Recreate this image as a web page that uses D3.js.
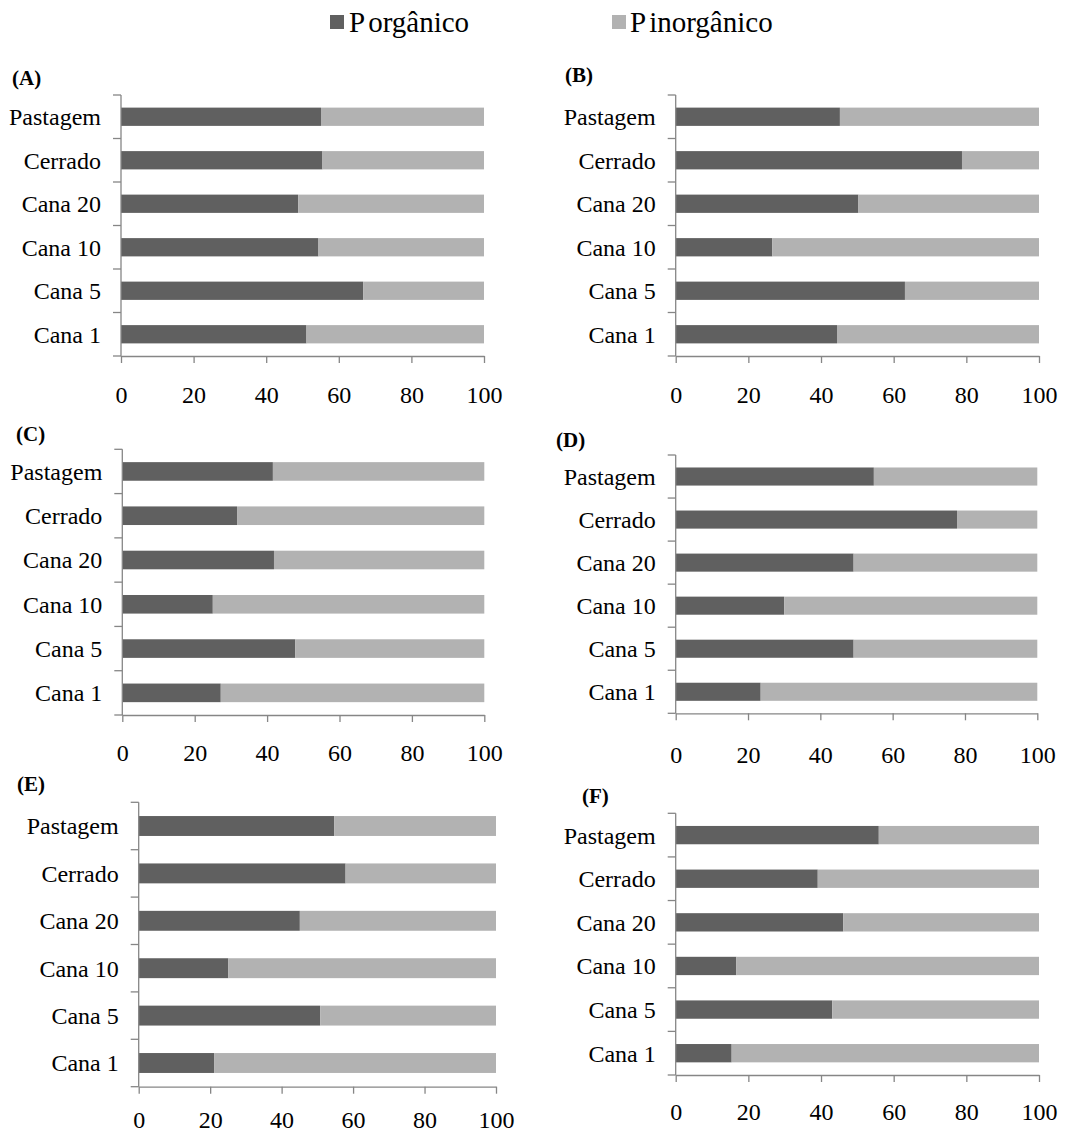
<!DOCTYPE html>
<html>
<head>
<meta charset="utf-8">
<script src="https://cdn.jsdelivr.net/npm/d3@7"></script>
<style>
  html, body { margin: 0; padding: 0; background: #fff; }
  svg { display: block; }
  svg text { font-family: "Liberation Serif", "Times New Roman", serif; }
</style>
</head>
<body>
<svg id="chart" width="1080" height="1135"></svg>
<script>
// ---- data ----
const categories = ["Pastagem", "Cerrado", "Cana 20", "Cana 10", "Cana 5", "Cana 1"];
const seriesNames = ["Porgânico", "Pinorgânico"];
const xTicks = [0, 20, 40, 60, 80, 100];
const panelLabels = ["(A)", "(B)", "(C)", "(D)", "(E)", "(F)"];

const pOrgA = [55.1, 55.5, 48.8, 54.4, 66.7, 51.1];
const pInorgA = [44.9, 44.5, 51.2, 45.6, 33.3, 48.9];
const pOrgB = [45.2, 78.8, 50.3, 26.6, 63.1, 44.4];
const pInorgB = [54.8, 21.2, 49.7, 73.4, 36.9, 55.6];
const pOrgC = [41.6, 31.7, 41.9, 25.0, 47.8, 27.2];
const pInorgC = [58.4, 68.3, 58.1, 75.0, 52.2, 72.8];
const pOrgD = [54.8, 77.8, 49.2, 30.0, 49.2, 23.5];
const pInorgD = [45.2, 22.2, 50.8, 70.0, 50.8, 76.5];
const pOrgE = [54.7, 57.9, 45.1, 25.1, 50.8, 21.1];
const pInorgE = [45.3, 42.1, 54.9, 74.9, 49.2, 78.9];
const pOrgF = [55.9, 39.1, 46.1, 16.7, 43.1, 15.4];
const pInorgF = [44.1, 60.9, 53.9, 83.3, 56.9, 84.6];

const orgSeries = [pOrgA, pOrgB, pOrgC, pOrgD, pOrgE, pOrgF];
const inorgSeries = [pInorgA, pInorgB, pInorgC, pInorgD, pInorgE, pInorgF];

// ---- layout (positions only) ----
const layout = [
  { x0: 121,   x1: 484,    yTop: 95,    yBot: 356,    labX: 12,  labY: 85,  tickY: 403 },
  { x0: 675.7, x1: 1039,   yTop: 95,    yBot: 356,    labX: 565, labY: 82,  tickY: 403 },
  { x0: 122.3, x1: 484.3,  yTop: 449.3, yBot: 715,    labX: 16,  labY: 441, tickY: 761 },
  { x0: 675.7, x1: 1037.3, yTop: 455,   yBot: 713.3,  labX: 556, labY: 447, tickY: 763 },
  { x0: 138.7, x1: 496,    yTop: 802.3, yBot: 1086.7, labX: 17,  labY: 791, tickY: 1128 },
  { x0: 675.7, x1: 1039,   yTop: 813.3, yBot: 1075,   labX: 582, labY: 803, tickY: 1120 }
];

const colors = { org: "#606060", inorg: "#b2b2b2", axis: "#868686", text: "#000" };
const FONT = "Liberation Serif, Times New Roman, serif";

const svg = d3.select("#chart");

// ---- legend ----
const legend = [
  { name: seriesNames[0], color: colors.org, sx: 330, tx: 349 },
  { name: seriesNames[1], color: colors.inorg, sx: 612, tx: 630 }
];
legend.forEach(l => {
  svg.append("rect").attr("x", l.sx).attr("y", 15).attr("width", 14).attr("height", 14).attr("fill", l.color);
  const t = svg.append("text").attr("x", l.tx).attr("y", 32).attr("font-size", 29)
    .attr("font-family", FONT).attr("fill", colors.text);
  t.append("tspan").text(l.name.slice(0, 1));
  t.append("tspan").attr("dx", 3).text(l.name.slice(1));
});

// ---- panels ----
layout.forEach((L, i) => {
  const g = svg.append("g");
  const x = d3.scaleLinear().domain([0, 100]).range([L.x0, L.x1]);
  const y = d3.scaleBand().domain(categories).range([L.yTop, L.yBot]).paddingInner(0.58).paddingOuter(0.29);
  const step = y.step();

  const rows = categories.map((c, k) => ({ cat: c, org: orgSeries[i][k], inorg: inorgSeries[i][k] }));
  const stacked = d3.stack().keys(["org", "inorg"])(rows);

  g.selectAll("g.series").data(stacked).join("g")
    .attr("fill", d => d.key === "org" ? colors.org : colors.inorg)
    .selectAll("rect").data(d => d).join("rect")
    .attr("x", d => x(d[0]))
    .attr("width", d => x(d[1]) - x(d[0]))
    .attr("y", d => y(d.data.cat))
    .attr("height", y.bandwidth());

  // category labels
  g.selectAll("text.cat").data(categories).join("text")
    .attr("class", "cat")
    .attr("x", L.x0 - 20)
    .attr("y", d => y(d) + y.bandwidth() / 2)
    .attr("dy", "0.35em")
    .attr("text-anchor", "end")
    .attr("font-family", FONT)
    .attr("font-size", 24)
    .attr("fill", colors.text)
    .text(d => d);

  // y axis line and ticks between categories
  g.append("line").attr("x1", L.x0).attr("x2", L.x0).attr("y1", L.yTop).attr("y2", L.yBot)
    .attr("stroke", colors.axis).attr("stroke-width", 1.3);
  const yTickPos = d3.range(categories.length + 1).map(k => L.yTop + k * step);
  g.selectAll("line.ytick").data(yTickPos).join("line")
    .attr("x1", L.x0 - 8).attr("x2", L.x0).attr("y1", d => d).attr("y2", d => d)
    .attr("stroke", colors.axis).attr("stroke-width", 1.3);

  // x axis
  const xAxis = d3.axisBottom(x).tickValues(xTicks).tickSize(7).tickSizeOuter(0).tickFormat(d3.format("d"));
  const ax = g.append("g").attr("transform", `translate(0,${L.yBot})`).call(xAxis)
    .attr("font-family", FONT);
  ax.select(".domain").attr("stroke", colors.axis).attr("stroke-width", 1.3);
  ax.selectAll(".tick line").attr("stroke", colors.axis).attr("stroke-width", 1.3);
  ax.selectAll(".tick text")
    .attr("font-family", FONT)
    .attr("font-size", 24).attr("fill", colors.text)
    .attr("dy", null)
    .attr("y", L.tickY - L.yBot);

  // panel label
  svg.append("text").attr("x", L.labX).attr("y", L.labY)
    .attr("font-family", FONT)
    .attr("font-size", 21).attr("font-weight", "bold").attr("fill", colors.text)
    .text(panelLabels[i]);
});
</script>
</body>
</html>
